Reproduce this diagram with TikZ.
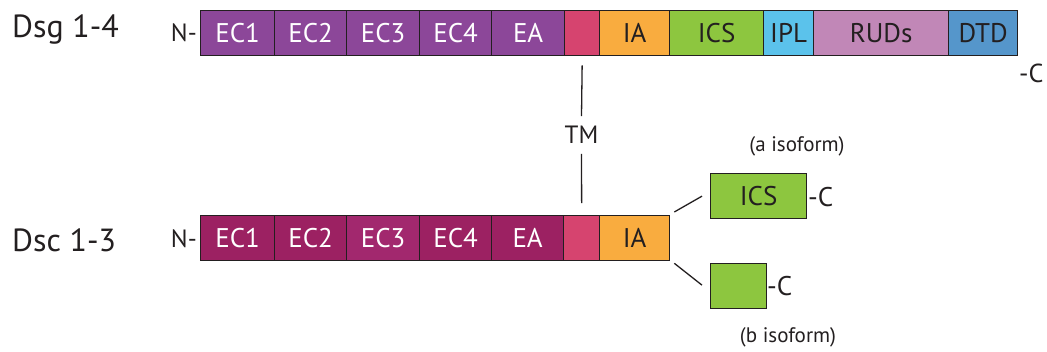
\documentclass[tikz,border=0pt]{standalone}
\usepackage{fontspec}
\setmainfont{PT Sans}
\usetikzlibrary{calc}
\definecolor{border}{HTML}{231F20}
\definecolor{purp}{HTML}{8C4799}
\definecolor{mag}{HTML}{9C2162}
\definecolor{magl}{HTML}{A2286E}
\definecolor{tmpink}{HTML}{D6446F}
\definecolor{iaor}{HTML}{F9AC3F}
\definecolor{icsg}{HTML}{8DC63F}
\definecolor{iplb}{HTML}{5BC2EB}
\definecolor{rudp}{HTML}{C187B7}
\definecolor{dtdb}{HTML}{5596CB}
\begin{document}
\begin{tikzpicture}[x=1pt,y=-1pt,
  seg/.style 2 args={draw=border, line width=1.3pt, fill=#1, minimum width=#2,
    minimum height=45pt, inner sep=0pt, anchor=north west, text=border,
    font=\fontsize{27}{27}\selectfont},
  wseg/.style={text=white, font=\fontsize{27}{27}\selectfont},
  lbl/.style={text=border, inner sep=0pt},
  conn/.style={draw=border, line width=1.3pt}]
\useasboundingbox (0,0) rectangle (1047,351);
% top row
\node[lbl, font=\fontsize{32}{32}\selectfont, anchor=west] (dsg) at (12,29) {Dsg 1-4};
\node[lbl, font=\fontsize{25}{25}\selectfont, anchor=east] (n1) at (197,33) {N-};
\node[seg={purp}{74pt}, wseg] (ec1a) at (200,10) {EC1};
\node[seg={purp}{72pt}, wseg] (ec2a) at (274,10) {EC2};
\node[seg={purp}{73pt}, wseg] (ec3a) at (346,10) {EC3};
\node[seg={purp}{72pt}, wseg] (ec4a) at (419,10) {EC4};
\node[seg={purp}{73pt}, wseg] (eaa) at (491,10) {EA};
\node[seg={tmpink}{35pt}] (tma) at (564,10) {};
\node[seg={iaor}{70pt}] (iaa) at (599,10) {IA};
\node[seg={icsg}{94pt}] (icsa) at (669,10) {ICS};
\node[seg={iplb}{50pt}] (ipla) at (763,10) {IPL};
\node[seg={rudp}{135pt}] (ruda) at (813,10) {RUDs};
\node[seg={dtdb}{69pt}] (dtda) at (948,10) {DTD};
\node[lbl, font=\fontsize{26}{26}\selectfont, anchor=west] (c1) at (1019,73) {-C};
% TM label
\node[lbl, font=\fontsize{25}{25}\selectfont] (tml) at (581.5,135) {TM};
% bottom row
\node[lbl, font=\fontsize{32}{32}\selectfont, anchor=west] (dsc) at (12,240) {Dsc 1-3};
\node[lbl, font=\fontsize{25}{25}\selectfont, anchor=east] (n2) at (197,239) {N-};
\node[seg={mag}{74pt}, wseg] (ec1b) at (200,215) {EC1};
\node[seg={mag}{72pt}, wseg] (ec2b) at (274,215) {EC2};
\node[seg={magl}{73pt}, wseg] (ec3b) at (346,215) {EC3};
\node[seg={mag}{72pt}, wseg] (ec4b) at (419,215) {EC4};
\node[seg={mag}{72pt}, wseg] (eab) at (491,215) {EA};
\node[seg={tmpink}{36pt}] (tmb) at (563,215) {};
\node[seg={iaor}{70pt}] (iab) at (599,215) {IA};
% isoforms
\node[seg={icsg}{96pt}] (icsb) at (710,173) {ICS};
\node[lbl, font=\fontsize{27}{27}\selectfont, anchor=west] (c2) at (808,197) {-C};
\node[seg={icsg}{56pt}] (smb) at (710,263) {};
\node[lbl, font=\fontsize{27}{27}\selectfont, anchor=west] (c3) at (767,286) {-C};
\node[lbl, font=\fontsize{21}{21}\selectfont] (isoa) at (797,146) {(a isoform)};
\node[lbl, font=\fontsize{21}{21}\selectfont] (isob) at (788,337) {(b isoform)};
% connectors
\draw[conn] ($(tma.south)+(0,9)$) -- ($(tml.north)+(0,-10)$);
\draw[conn] ($(tml.south)+(0,10)$) -- ($(tmb.north)+(0,-12)$);
\draw[conn] ($(iab.north east)+(4,-3)$) -- ($(icsb.west)+(-8,0)$);
\draw[conn] ($(iab.south east)+(4,2)$) -- ($(smb.west)+(-8,-1)$);
\end{tikzpicture}
\end{document}
